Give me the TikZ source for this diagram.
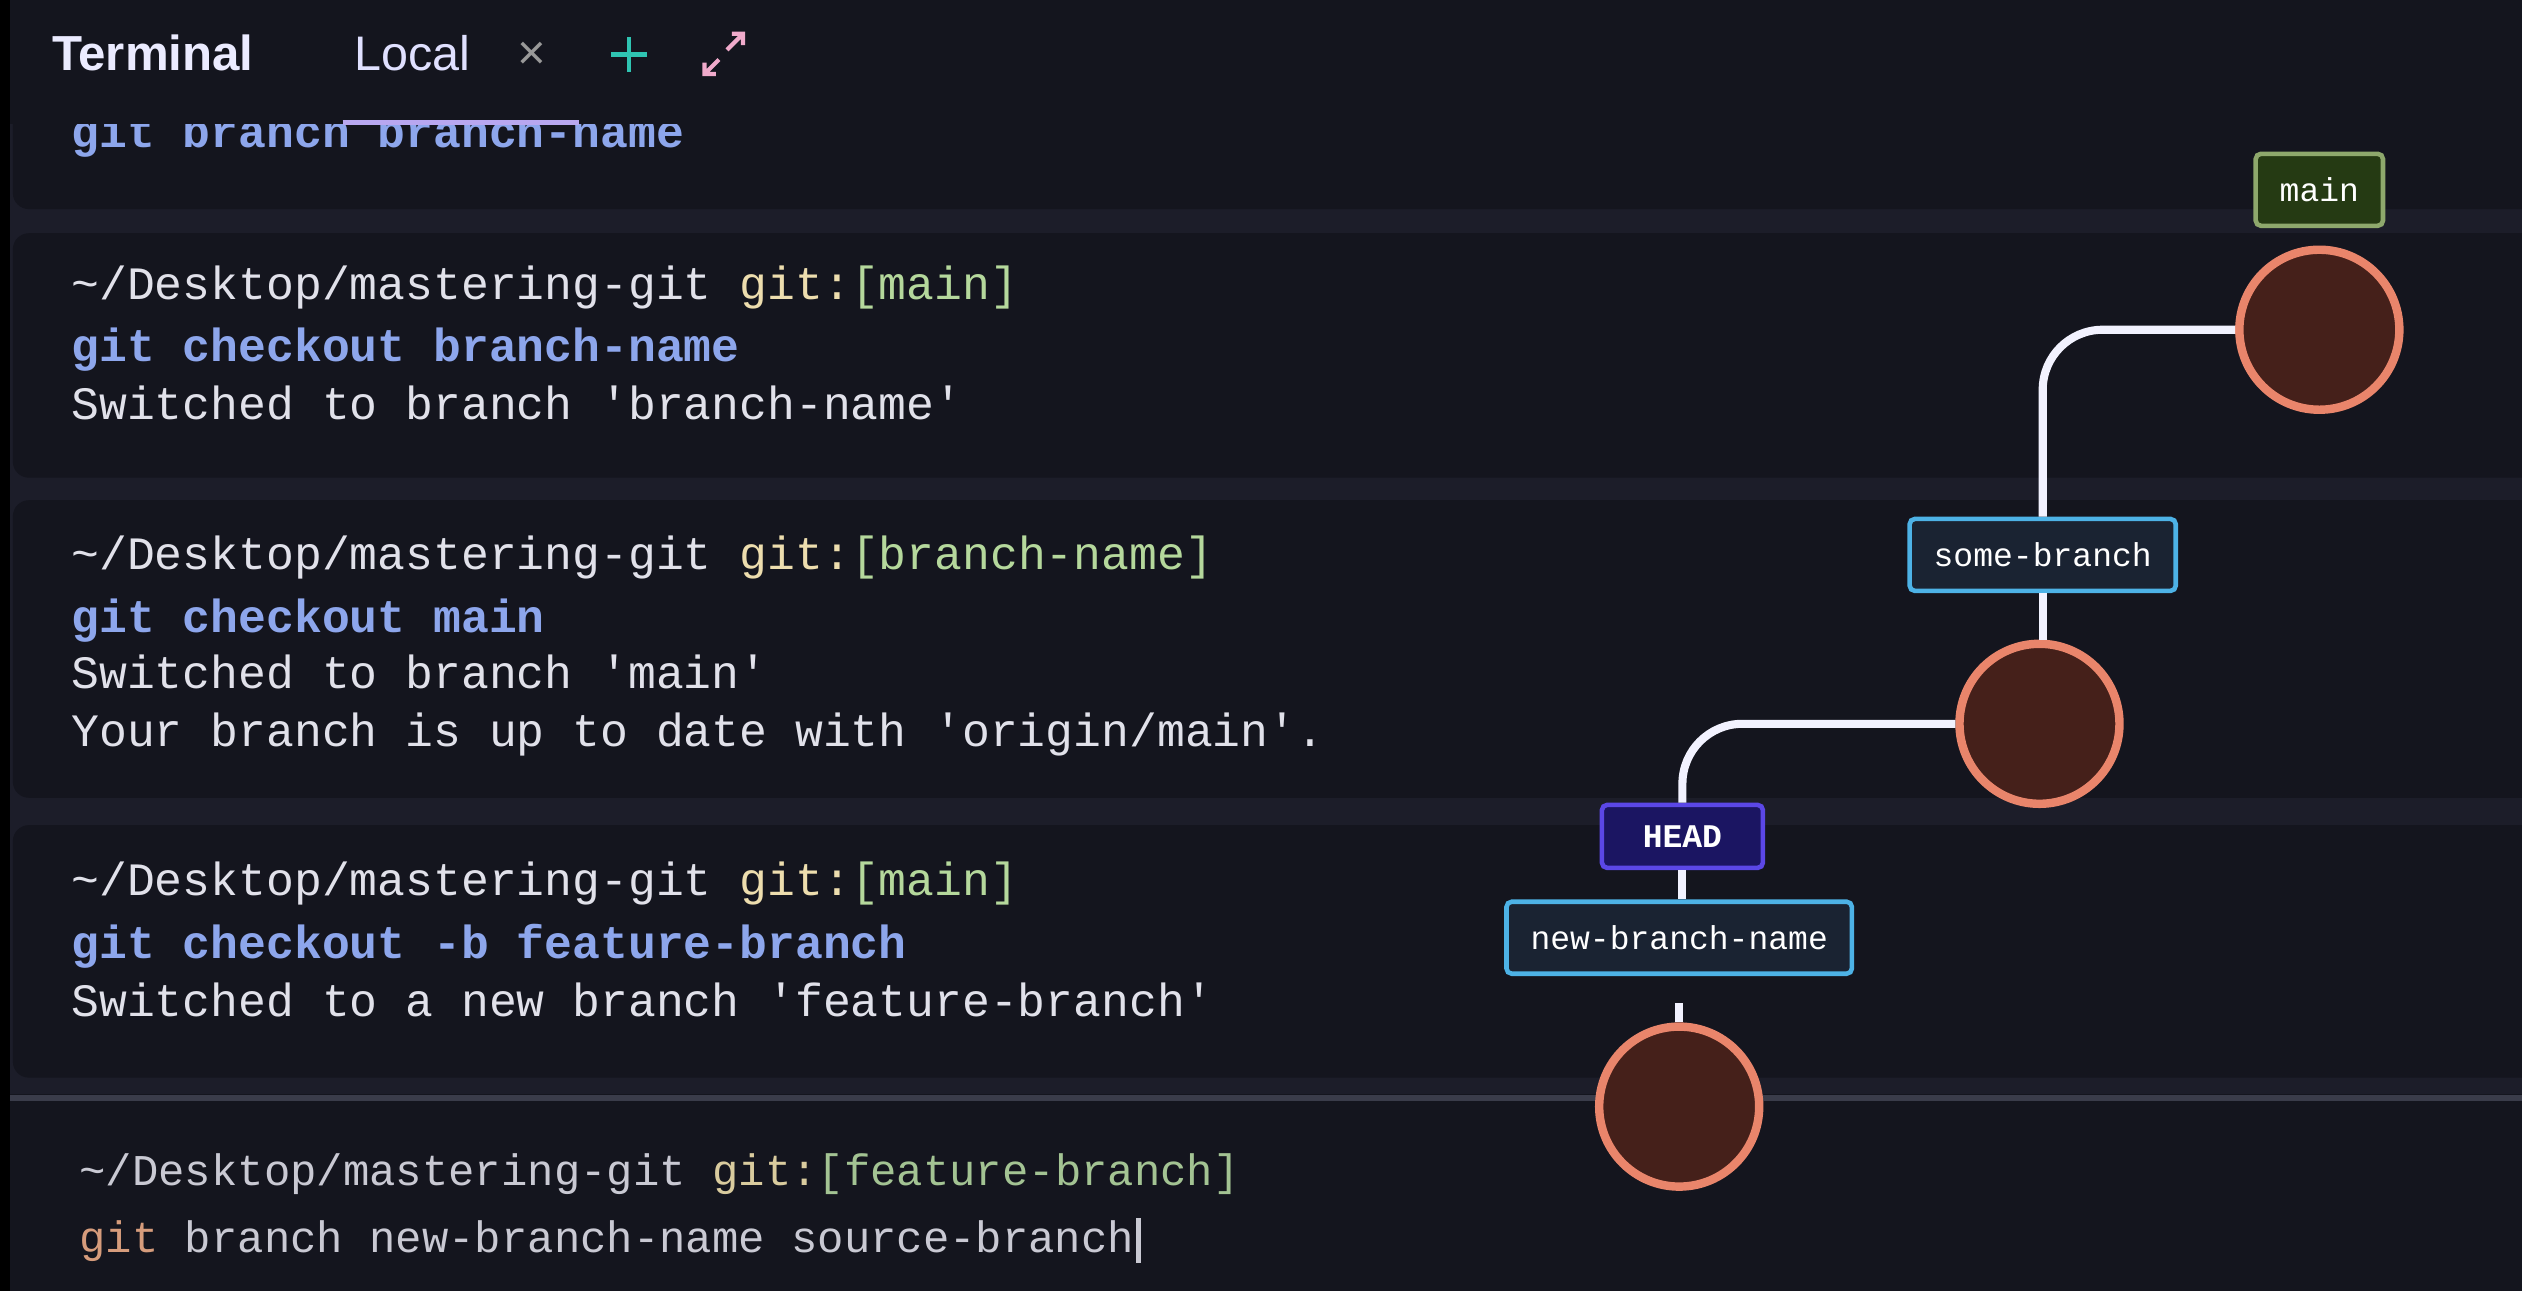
\documentclass[tikz,border=0pt]{standalone}
\usepackage{fontspec}
\setsansfont{Liberation Sans}
\newfontfamily\termfont{Liberation Mono}
\usepackage{tikz}
\usetikzlibrary{positioning}
\definecolor{bg}{HTML}{14151E}
\definecolor{band}{HTML}{1C1D29}
\definecolor{rulegray}{HTML}{3A3C4A}
\definecolor{cmdblue}{HTML}{8DA6EC}
\definecolor{outwhite}{HTML}{E1E1EA}
\definecolor{gityel}{HTML}{EDDDAE}
\definecolor{brgreen}{HTML}{B5D89C}
\definecolor{dimwhite}{HTML}{C9C9D3}
\definecolor{dimyel}{HTML}{D9CB9E}
\definecolor{dimgreen}{HTML}{A3C393}
\definecolor{gittan}{HTML}{D69C7C}
\definecolor{commitfill}{HTML}{45201A}
\definecolor{commitline}{HTML}{E9856B}
\definecolor{tagblue}{HTML}{4DB2E6}
\definecolor{tagfill}{HTML}{1A2332}
\definecolor{mainline}{HTML}{8EA86C}
\definecolor{mainfill}{HTML}{253A13}
\definecolor{headline}{HTML}{5B47E6}
\definecolor{headfill}{HTML}{1B1562}
\definecolor{tabteal}{HTML}{2FC4B2}
\definecolor{tabpink}{HTML}{F0AACB}
\definecolor{tabline}{HTML}{B8A7F0}
\newcommand{\sq}{\textquotesingle}
\newcommand{\prompt}[1]{\textasciitilde/Desktop/mastering-git {\color{gityel}git:}{\color{brgreen}[#1]}}

\begin{document}
\begin{tikzpicture}[x=0.016084cm,y=-0.016084cm,
  term/.style={font=\termfont\fontsize{13.2}{15}\selectfont,anchor=base west,inner sep=0pt,text=outwhite},
  cmd/.style={term,font=\termfont\bfseries\fontsize{13.2}{15}\selectfont,text=cmdblue},
  last/.style={term,font=\termfont\fontsize{12.5}{14}\selectfont,text=dimwhite},
  panel/.style={fill=bg,rounded corners=0.16cm},
  commit/.style={circle,draw=commitline,fill=commitfill,line width=2.4pt,minimum size=1.6cm,inner sep=0pt},
  tag/.style={draw=tagblue,fill=tagfill,line width=1.3pt,rounded corners=1.5pt,text=white,font=\termfont\fontsize{9.4}{11}\selectfont,minimum height=0.72cm,inner xsep=0.24cm,inner ysep=0pt},
  edge/.style={draw=white!95!blue,line width=2.3pt,rounded corners=0.6cm}]
\useasboundingbox (0,0) rectangle (1568,802.7);
\fill[band] (0,0) rectangle (1568,802.7);
\fill[bg] (0,680) rectangle (1568,802.7);
\fill[panel] (8,60) rectangle (1590,130);
\fill[panel] (8,145) rectangle (1590,297);
\fill[panel] (8,311) rectangle (1590,496);
\fill[panel] (8,513) rectangle (1590,670);
\fill[rulegray] (0,681) rectangle (1568,684.5);

\node[cmd] (b1cmd) at (44,92) {git branch branch-name};
\fill[bg] (0,0) rectangle (1568,77);
\draw[tabline,line width=1.4pt] (213,76) -- (360,76);
\fill[black] (0,0) rectangle (6,802.7);

\node[anchor=base west,inner sep=0pt,text=white!92!blue,font=\sffamily\bfseries\fontsize{14}{16}\selectfont] (tabterm) at (32,44) {Terminal};
\node[anchor=base west,inner sep=0pt,text=white!88!blue,font=\sffamily\fontsize{13.8}{16}\selectfont] (tablocal) at (220,44) {Local};
\node[anchor=base west,inner sep=0pt,text=gray!80!white,font=\sffamily\fontsize{14}{16}\selectfont] (tabx) at (321,43) {×};
\draw[tabteal,line width=1.3pt] (380,34) -- (402,34) (391,23) -- (391,45);
\draw[tabpink,line width=1.2pt] (452,31) -- (462,21) (455,21) -- (462,21) -- (462,28)
  (447,37) -- (438,46) (438,39) -- (438,46) -- (445,46);

\node[term] (b2prompt) at (44,186) {\prompt{main}};
\node[cmd] (b2cmd) at (44,225) {git checkout branch-name};
\node[term] (b2out) at (44,261) {Switched to branch \sq branch-name\sq};

\node[term] (b3prompt) at (44,354) {\prompt{branch-name}};
\node[cmd] (b3cmd) at (44,393) {git checkout main};
\node[term] (b3out) at (44,428) {Switched to branch \sq main\sq};
\node[term] (b3out2) at (44,464) {Your branch is up to date with \sq origin/main\sq.};

\node[term] (b4prompt) at (44,557) {\prompt{main}};
\node[cmd] (b4cmd) at (44,596) {git checkout -b feature-branch};
\node[term] (b4out) at (44,632) {Switched to a new branch \sq feature-branch\sq};

\node[last] (b5prompt) at (49,737) {\textasciitilde/Desktop/mastering-git {\color{dimyel}git:}{\color{dimgreen}[feature-branch]}};
\node[last] (b5cmd) at (49,779) {{\color{gittan}git} branch new-branch-name source-branch};
\draw[dimwhite,line width=1.2pt] ([xshift=1pt]b5cmd.base east) ++(0,6) -- ++(0,-28);

\node[commit] (c1) at (1442,205) {};
\node[tag,draw=mainline,fill=mainfill] (main) at (1442,118) {main};
\node[tag] (some) at (1270,345) {some-branch};
\node[commit] (c2) at (1268,450) {};
\node[tag,draw=headline,fill=headfill,font=\termfont\bfseries\fontsize{9.4}{11}\selectfont,minimum width=1.61cm,minimum height=0.63cm] (head) at (1046,520) {HEAD};
\node[tag] (new) at (1044,583) {new-branch-name};
\node[commit] (c3) at (1044,688) {};

\draw[edge] (c1) -| (some);
\draw[edge] (some) -- (some |- c2.north);
\draw[edge] (c2) -| (head);
\draw[edge] (head) -- (head |- new.north);
\draw[edge] ([yshift=-0.27cm]new.south) -- (c3);
\end{tikzpicture}
\end{document}
